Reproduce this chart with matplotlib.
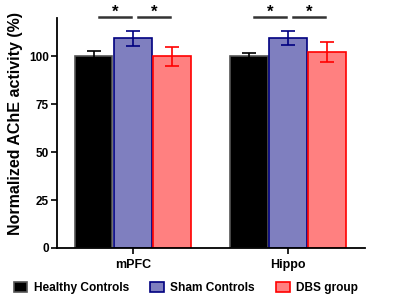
import numpy as np
from matplotlib import pyplot as plt
from matplotlib.patches import Patch

regions = ["mPFC", "Hippo"]
groups = ["Healthy Controls", "Sham Controls", "DBS group"]
means = {
    "Healthy Controls": [100.0, 100.0],
    "Sham Controls": [109.5, 109.6],
    "DBS group": [100.0, 102.3],
}
sems = {
    "Healthy Controls": [3.0, 2.0],
    "Sham Controls": [4.0, 3.5],
    "DBS group": [4.8, 5.0],
}
facecolors = ["#000000", "#7f7fbf", "#ff8080"]
edgecolors = ["#555555", "#000080", "#ff0000"]
errcolors = ["#000000", "#000080", "#ff0000"]

plt.rcParams["font.family"] = ["Liberation Sans", "DejaVu Sans"]
plt.rcParams["font.weight"] = "bold"

fig = plt.figure(figsize=(4, 2.97), dpi=100)
ax = fig.add_axes([0.1425, 0.165, 0.77, 0.774])

x = np.arange(len(regions))
width = 0.24
offset = 0.252
for i, g in enumerate(groups):
    pos = x + (i - 1) * offset
    ax.bar(pos, means[g], width, color=facecolors[i], edgecolor=edgecolors[i],
           linewidth=1.2, label=g, zorder=2)
    ax.errorbar(pos, means[g], yerr=sems[g], fmt="none", ecolor=errcolors[i],
                elinewidth=1.2, capsize=5, capthick=1.2, zorder=3)

# significance lines
for xc in x:
    for a, b in [(-1, 0), (0, 1)]:
        x1 = xc + a * offset + 0.03
        x2 = xc + b * offset - 0.012
        ax.plot([x1, x2], [120.5, 120.5], color="#333333", lw=1.8,
                clip_on=False, zorder=4)
        ax.text((x1 + x2) / 2, 119.0, "*", ha="center", va="bottom",
                fontsize=12, fontweight="bold", clip_on=False)

ax.set_xlim(-0.49, 1.497)
ax.set_ylim(0, 120)
ax.set_yticks([0, 25, 50, 75, 100])
ax.set_xticks(x)
ax.set_xticklabels(regions, fontsize=9, fontweight="bold")
ax.tick_params(axis="y", labelsize=8.5, width=1.2, length=4.5, pad=1.5)
ax.tick_params(axis="x", width=1.2, length=4.5)
for s in ["top", "right"]:
    ax.spines[s].set_visible(False)
for s in ["left", "bottom"]:
    ax.spines[s].set_linewidth(1.3)
ax.set_ylabel("Normalized AChE activity (%)", fontsize=11.5, fontweight="bold")
ax.yaxis.set_label_coords(-0.11, 0.54)

handles = [Patch(facecolor=facecolors[i], edgecolor=edgecolors[i], linewidth=1.2)
           for i in range(len(groups))]
fig.legend(handles, groups, loc="center", bbox_to_anchor=(0.465, 0.03),
           ncol=3, frameon=False, fontsize=8.6, handlelength=1.15,
           handleheight=0.95, columnspacing=1.75, handletextpad=0.55,
           borderpad=0, borderaxespad=0)

fig.savefig("out.png", dpi=100)
